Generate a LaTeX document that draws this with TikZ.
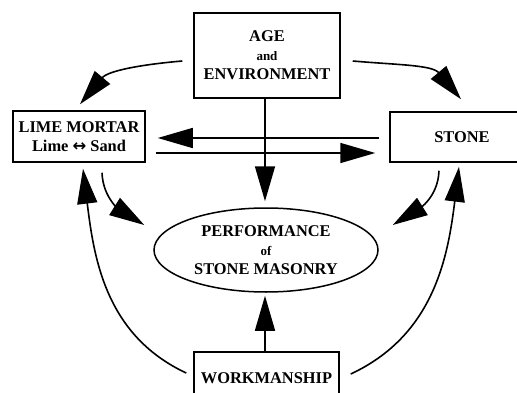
\documentclass[tikz,border=0pt]{standalone}
\usepackage{fontspec}
\setmainfont{Liberation Serif}
\newfontfamily\arrowfont{DejaVu Sans}
\usetikzlibrary{arrows.meta,shapes}
\tikzstyle{block}=[draw,line width=1.5pt,inner sep=0pt,align=center,font=\fontsize{16.4}{19}\selectfont\bfseries]
\tikzstyle{goal}=[block,ellipse]
\tikzstyle{flow}=[draw,line width=1.6pt,-{Triangle[length=35pt,width=20pt]}]
\newcommand{\linkword}[1]{{\fontsize{13}{19}\selectfont #1}}

\begin{document}
\begin{tikzpicture}[x=1pt,y=1pt]
    \useasboundingbox (0,0) rectangle (517,392);
    % First we draw the blocks
    \node[block,minimum width=146pt,minimum height=85pt] (age) at (267,336.5) {AGE\\\linkword{and}\\ENVIRONMENT};
    \node[block,minimum width=132pt,minimum height=51pt] (mortar) at (79,255.5) {LIME MORTAR\\Lime {\arrowfont\bfseries ↔} Sand};
    \node[block,minimum width=144pt,minimum height=50pt] (stone) at (462,255) {STONE};
    \node[goal,minimum width=224pt,minimum height=84pt] (perf) at (266,142) {PERFORMANCE\\\linkword{of}\\STONE MASONRY};
    \node[block,minimum width=145pt,minimum height=52pt] (work) at (266.5,14) {WORKMANSHIP};

    % Straight links
    \path[flow] ([shift={(-10pt,-1pt)}]stone.west) -- ([shift={(12pt,-1.5pt)}]mortar.east);
    \path[flow] ([shift={(10pt,-16.5pt)}]mortar.east) -- ([shift={(-14pt,-16pt)}]stone.west);
    \path[flow] ([xshift=-2pt]age.south) -- ([shift={(-1pt,6pt)}]perf.north);
    \path[flow] ([xshift=-1.5pt]work.north) -- ([shift={(-1pt,-3pt)}]perf.south);

    % Curved links
    \path[flow] ([shift={(-11pt,-5.5pt)}]age.west) to[out=185,in=50] ([shift={(1pt,6pt)}]mortar.north);
    \path[flow] ([shift={(12pt,-5.5pt)}]age.east) to[out=-5,in=130] ([shift={(-1pt,12pt)}]stone.north);
    \path[flow] ([shift={(23pt,-10pt)}]mortar.south) to[out=-88,in=148] ([shift={(-9pt,25pt)}]perf.west);
    \path[flow] ([shift={(-23pt,-8pt)}]stone.south) to[out=-92,in=32] ([shift={(14pt,25pt)}]perf.east);
    \path[flow] ([shift={(-7pt,5pt)}]work.west) to[out=155,in=-83] ([shift={(4pt,-6pt)}]mortar.south);
    \path[flow] ([shift={(11pt,4pt)}]work.east) to[out=25,in=-97] ([shift={(-3pt,-4pt)}]stone.south);
\end{tikzpicture}
\end{document}
